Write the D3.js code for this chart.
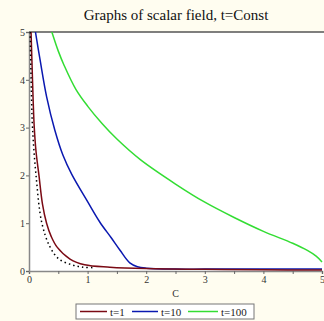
<!DOCTYPE html>
<html>
<head>
<meta charset="utf-8">
<script src="https://cdn.jsdelivr.net/npm/d3@7"></script>
<style>
  html, body { margin: 0; padding: 0; background: #fffdf0; }
  svg { display: block; }
  text { font-family: "Liberation Serif", "Times New Roman", serif; }
</style>
</head>
<body>
<svg width="324" height="321"></svg>
<script>
// values
let xTicks = [0, 1, 2, 3, 4, 5];
let yTicks = [0, 1, 2, 3, 4, 5];

let redC = [0.035, 0.05, 0.07, 0.09, 0.12, 0.17, 0.23, 0.30, 0.38, 0.48, 0.70, 0.95, 1.38, 2, 3, 4, 5];
let redY = [5, 4.4, 3.6, 3.0, 2.5, 2.0, 1.4, 1.0, 0.72, 0.5, 0.25, 0.13, 0.08, 0.05, 0.035, 0.025, 0.02];

let dotC = [0.02, 0.04, 0.06, 0.12, 0.22, 0.36, 0.51, 0.73, 0.92, 1.1];
let dotY = [5, 3.8, 3.0, 2.0, 1.0, 0.5, 0.25, 0.13, 0.08, 0.07];

let blueC = [0.11, 0.19, 0.30, 0.44, 0.58, 0.73, 1.0, 1.21, 1.4, 1.55, 1.72, 1.85, 2.0, 2.5, 3, 4, 5];
let blueY = [5, 4.41, 3.65, 2.95, 2.42, 2.02, 1.45, 1.02, 0.7, 0.44, 0.17, 0.09, 0.06, 0.04, 0.04, 0.04, 0.04];

let greenC = [0.39, 0.5, 0.6, 0.8, 1.0, 1.25, 1.5, 1.9, 2.5, 3.0, 3.5, 4.0, 4.5, 4.75, 4.9, 5.0];
let greenY = [5, 4.6, 4.3, 3.8, 3.45, 3.08, 2.76, 2.33, 1.82, 1.44, 1.12, 0.83, 0.58, 0.43, 0.31, 0.19];

let legendNames = ["t=1", "t=10", "t=100"];
let legendColors = ["#7a0a14", "#0a18b0", "#33dd33"];

let svg = d3.select("svg");

let margin = { top: 32, right: 2, bottom: 50, left: 29 };
let plotWidth = 324 - margin.left - margin.right;
let plotHeight = 321 - margin.top - margin.bottom;

let x = d3.scaleLinear().domain([0, 5]).range([0, plotWidth]);
let y = d3.scaleLinear().domain([0, 5]).range([plotHeight, 0]);

svg.append("text")
  .attr("x", 176)
  .attr("y", 20)
  .attr("text-anchor", "middle")
  .style("font-size", "15px")
  .attr("fill", "#111")
  .text("Graphs of scalar field, t=Const");

let plot = svg.append("g").attr("transform", "translate(" + margin.left + "," + margin.top + ")");

plot.append("rect")
  .attr("width", plotWidth + 2)
  .attr("height", plotHeight)
  .attr("fill", "#fff");

plot.append("clipPath").attr("id", "clip")
  .append("rect").attr("width", plotWidth + 2).attr("height", plotHeight);

// top frame
plot.append("line")
  .attr("x1", 0).attr("x2", plotWidth + 2)
  .attr("y1", 0).attr("y2", 0)
  .attr("stroke", "#555").attr("stroke-width", 1.5);

// axes
let xAxis = d3.axisBottom(x).tickValues(d3.range(0, 5.01, 0.5)).tickSize(3)
  .tickFormat(d => Number.isInteger(d) ? d : "");
let yAxis = d3.axisLeft(y).tickValues(yTicks).tickSize(3).tickFormat(d3.format("d"));

let xGroup = plot.append("g").attr("transform", "translate(0," + plotHeight + ")").call(xAxis);
let yGroup = plot.append("g").call(yAxis);

[xGroup, yGroup].forEach(g => {
  g.select(".domain").attr("stroke", "#888").attr("stroke-width", 1.5);
  g.selectAll(".tick line").attr("stroke", "#666");
  g.selectAll(".tick text")
    .attr("fill", "#333")
    .style("font-family", "'Liberation Serif', serif")
    .style("font-size", "10px");
});
yGroup.selectAll(".tick text").attr("x", -4);
xGroup.selectAll(".tick text").attr("y", 5);

plot.append("text")
  .attr("x", x(2.5))
  .attr("y", plotHeight + 26)
  .attr("text-anchor", "middle")
  .style("font-size", "10px")
  .attr("fill", "#333")
  .text("C");

let line = d3.line()
  .x(d => x(d[0]))
  .y(d => y(d[1]))
  .curve(d3.curveCatmullRom.alpha(0.5));

let curves = plot.append("g").attr("clip-path", "url(#clip)");

curves.append("path")
  .datum(d3.zip(greenC, greenY))
  .attr("d", line)
  .attr("fill", "none")
  .attr("stroke", legendColors[2])
  .attr("stroke-width", 1.5);

curves.append("path")
  .datum(d3.zip(blueC, blueY))
  .attr("d", line)
  .attr("fill", "none")
  .attr("stroke", legendColors[1])
  .attr("stroke-width", 1.5);

curves.append("path")
  .datum(d3.zip(redC, redY))
  .attr("d", line)
  .attr("fill", "none")
  .attr("stroke", legendColors[0])
  .attr("stroke-width", 1.5);

curves.append("path")
  .datum(d3.zip(dotC, dotY))
  .attr("d", line)
  .attr("fill", "none")
  .attr("stroke", "#000")
  .attr("stroke-width", 1.5)
  .attr("stroke-dasharray", "1.5,3");

// legend
let legend = svg.append("g").attr("transform", "translate(76,304)");
legend.append("rect")
  .attr("width", 178).attr("height", 15)
  .attr("fill", "#fff").attr("stroke", "#777");

let itemX = [4, 56, 112];
let itemW = [27, 26, 30];
legendNames.forEach((name, i) => {
  legend.append("line")
    .attr("x1", itemX[i]).attr("x2", itemX[i] + itemW[i])
    .attr("y1", 7.5).attr("y2", 7.5)
    .attr("stroke", legendColors[i]).attr("stroke-width", 1.5);
  legend.append("text")
    .attr("x", itemX[i] + itemW[i] + 3)
    .attr("y", 11.5)
    .style("font-size", "11px")
    .attr("fill", "#222")
    .text(name);
});
</script>
</body>
</html>
